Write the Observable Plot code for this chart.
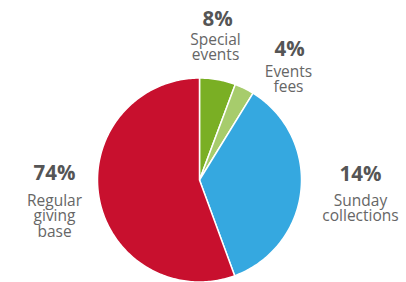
<!DOCTYPE html>
<html><head><meta charset="utf-8">
<script src="https://cdn.jsdelivr.net/npm/d3@7"></script>
<script src="https://cdn.jsdelivr.net/npm/@observablehq/plot@0.6"></script>
<style>html,body{margin:0;padding:0;background:#fff;}</style>
</head><body><div id="chart"></div>
<script>
// Data
const categories = ["Special events", "Events fees", "Sunday collections", "Regular giving base"];
const percentLabels = ["8%", "4%", "14%", "74%"];
const nameLabels = ["Special\nevents", "Events\nfees", "Sunday\ncollections", "Regular\ngiving\nbase"];
const sliceValues = [5.7, 3.1, 35.6, 55.6]; // visual slice sizes
const colors = ["#7aaf24", "#a7cc6c", "#35a8e0", "#c8102e"];

// Layout
const W = 406, H = 282;
const cx = 199, cy = 179.5, R = 102;
const pctAnchors = [[217, 11], [289, 41], [360, 166], [54, 165]];
const nameAnchors = [[215, 33], [288, 65], [360, 194], [54, 194]];

const total = d3.sum(sliceValues);
const pieData = [];
let acc = 0;
sliceValues.forEach((v, i) => {
  const a0 = acc / total * 2 * Math.PI;
  acc += v;
  const a1 = acc / total * 2 * Math.PI;
  const n = Math.max(4, Math.ceil((a1 - a0) / (Math.PI / 180)));
  pieData.push({cat: categories[i], x: cx, y: cy});
  for (let k = 0; k <= n; k++) {
    const a = a0 + (a1 - a0) * k / n;
    pieData.push({cat: categories[i], x: cx + R * Math.sin(a), y: cy - R * Math.cos(a)});
  }
  pieData.push({cat: categories[i], x: cx, y: cy});
});

const pctData = categories.map((c, i) => ({cat: c, text: percentLabels[i], x: pctAnchors[i][0], y: pctAnchors[i][1]}));
const nameData = categories.map((c, i) => ({cat: c, text: nameLabels[i], x: nameAnchors[i][0], y: nameAnchors[i][1]}));

const chart = Plot.plot({
  width: W, height: H,
  margin: 0,
  style: {fontFamily: "'Open Sans', sans-serif", background: "#fff"},
  x: {domain: [0, W], range: [0, W], axis: null},
  y: {domain: [0, H], range: [0, H], axis: null},
  color: {domain: categories, range: colors},
  marks: [
    Plot.line(pieData, {x: "x", y: "y", z: "cat", fill: "cat", stroke: "white", strokeWidth: 1.5, curve: "linear"}),
    Plot.text(pctData, {x: "x", y: "y", text: "text", fontSize: 20.5, fontWeight: "bold", fill: "#555", lineAnchor: "top"}),
    Plot.text(nameData, {x: "x", y: "y", text: "text", fontSize: 15.5, fill: "#666", lineAnchor: "top", lineHeight: 1.0})
  ]
});
document.getElementById("chart").appendChild(chart);
</script>
</body></html>
